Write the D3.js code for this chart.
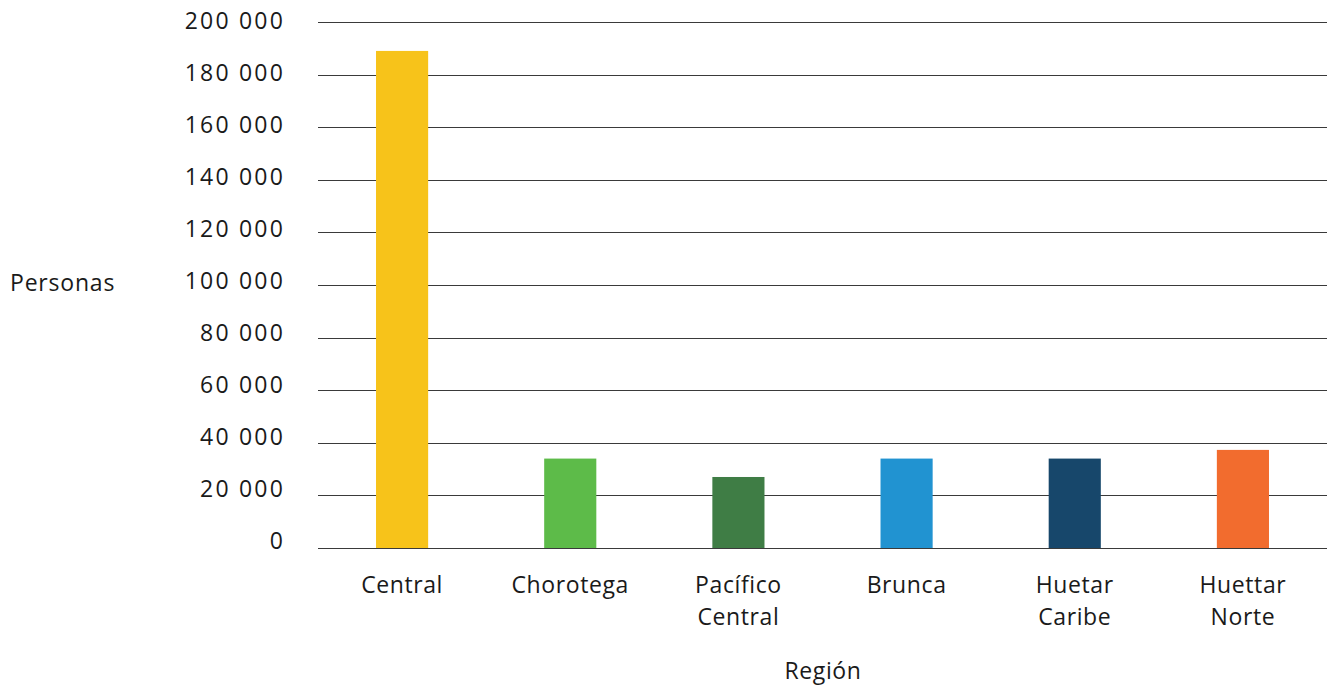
<!DOCTYPE html>
<html><head><meta charset="utf-8">
<script src="https://cdn.jsdelivr.net/npm/d3@7"></script>
<style>body{margin:0;background:#fff}svg{display:block}text{font-family:"Open Sans",sans-serif;fill:#1a1a1a}</style>
</head><body>
<svg id="c" width="1330" height="688"></svg>
<script>
const categories = [["Central"],["Chorotega"],["Pacífico","Central"],["Brunca"],["Huetar","Caribe"],["Huettar","Norte"]];
const values = [189000, 34000, 27000, 34000, 34000, 37300];
const colors = ["#F7C31A","#5DBB49","#3F7D45","#2193D1","#17476B","#F26C2E"];
const tickValues = [0,20000,40000,60000,80000,100000,120000,140000,160000,180000,200000];
const yTitle = "Personas", xTitle = "Región";

const svg = d3.select("#c");
const L = 318, R = 1327, T = 22, B = 548;
const keys = categories.map(c => c.join(" "));
const x = d3.scaleBand().domain(keys).range([L, R]).paddingInner(0.69).paddingOuter(0.345);
const y = d3.scaleLinear().domain([0, 200000]).range([B, T]);
const yLab = d3.scaleLinear().domain([0, 200000]).range([B - 7, T - 1]);
const fmt = v => d3.format(",")(v).replace(/,/g, " ");

svg.append("g").selectAll("line").data(tickValues).join("line")
  .attr("x1", L).attr("x2", R)
  .attr("y1", d => Math.round(y(d)) + 0.5).attr("y2", d => Math.round(y(d)) + 0.5)
  .attr("stroke", "#3a3a3a").attr("stroke-width", 1.2);

svg.append("g").selectAll("text").data(tickValues).join("text")
  .attr("x", 285).attr("y", d => yLab(d)).attr("dy", "0.36em")
  .attr("text-anchor", "end").attr("font-size", 23).attr("letter-spacing", 2.2).text(fmt);

svg.append("g").selectAll("rect").data(values).join("rect")
  .attr("x", (d, i) => x(keys[i])).attr("width", x.bandwidth())
  .attr("y", d => y(d)).attr("height", d => y(0) - y(d))
  .attr("fill", (d, i) => colors[i]);

const xl = svg.append("g").selectAll("text").data(categories).join("text")
  .attr("x", (d, i) => x(keys[i]) + x.bandwidth() / 2).attr("y", 593)
  .attr("text-anchor", "middle").attr("font-size", 23).attr("letter-spacing", 0.6);
xl.selectAll("tspan").data(d => d).join("tspan")
  .attr("x", function(){ return this.parentNode.getAttribute("x"); })
  .attr("dy", (d, i) => i ? 32 : 0).text(d => d);

svg.append("text").attr("x", 10).attr("y", 283).attr("dy", "0.36em").attr("font-size", 23).attr("letter-spacing", 0.8).text(yTitle);
svg.append("text").attr("x", 823).attr("y", 671).attr("dy", "0.36em").attr("text-anchor", "middle").attr("font-size", 23).attr("letter-spacing", 0.6).text(xTitle);
</script>
</body></html>
